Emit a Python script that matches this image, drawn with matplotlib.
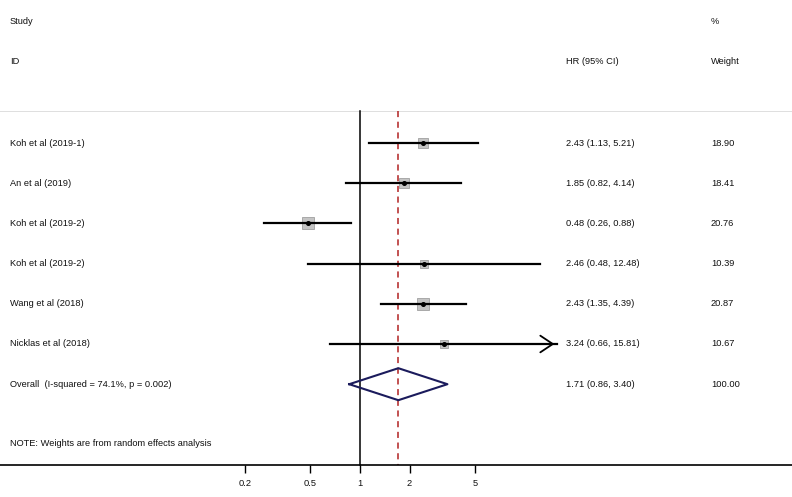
import matplotlib
matplotlib.use("Agg")
import matplotlib.pyplot as plt
import numpy as np

plt.rcParams['font.family'] = ['Liberation Sans', 'DejaVu Sans']

# study data
studies = ["Koh et al (2019-1)", "An et al (2019)", "Koh et al (2019-2)",
           "Koh et al (2019-2)", "Wang et al (2018)", "Nicklas et al (2018)"]
hr = [2.43, 1.85, 0.48, 2.46, 2.43, 3.24]
lo = [1.13, 0.82, 0.26, 0.48, 1.35, 0.66]
hi = [5.21, 4.14, 0.88, 12.48, 4.39, 15.81]
weight = [18.90, 18.41, 20.76, 10.39, 20.87, 10.67]

overall_hr, overall_lo, overall_hi = 1.71, 0.86, 3.40
overall_label = "Overall  (I-squared = 74.1%, p = 0.002)"
note = "NOTE: Weights are from random effects analysis"
xticks = [0.2, 0.5, 1, 2, 5]
ci_limit = 15  # CI beyond this gets an arrow

W, H = 792, 497
fig = plt.figure(figsize=(W / 100, H / 100), dpi=100)
ax = fig.add_axes([0, 0, 1, 1])
ax.set_xscale('log')
ppd = 164.5  # pixels per decade
x0 = 360     # pixel of HR = 1
ax.set_xlim(10 ** (-x0 / ppd), 10 ** ((W - x0) / ppd))
ax.set_ylim(H, 0)

tr = ax.get_yaxis_transform()  # x in axes fraction, y in data (pixels)

def px(x):
    return x / W

def txt(x, y, s):
    ax.text(px(x), y, s, fontsize=fs, va='center', color='#111111', transform=tr)

fs = 6.7
row_y = [143 + 40.2 * i for i in range(len(studies))]
y_over = row_y[-1] + 40.2

# header
txt(10, 22, "Study")
txt(10, 62, "ID")
txt(566, 62, "HR (95% CI)")
txt(711, 22, "%")
txt(711, 62, "Weight")
ax.axhline(111, color='#dedede', lw=0.7)

# reference lines
ax.plot([1, 1], [111, 465], color='black', lw=1.1)
ax.plot([overall_hr, overall_hr], [111, 465], color='#b22222', lw=1.1, ls=(0, (4, 3)))

for i, name in enumerate(studies):
    y = row_y[i]
    ax.plot([lo[i], hi[i]], [y, y], color='black', lw=1.6, zorder=3)
    if hi[i] > ci_limit:
        ax.annotate('', xy=(hi[i], y), xytext=(hi[i] / 1.3, y),
                    arrowprops=dict(arrowstyle='->,head_length=0.9,head_width=0.6',
                                    color='black', lw=1.3))
    ax.plot(hr[i], y, marker='s', ms=1.75 * np.sqrt(weight[i]), color='#c4c4c4',
            mec='#a0a0a0', mew=0.6, zorder=2)
    ax.plot(hr[i], y, marker='o', ms=2.6, color='black', zorder=4)
    txt(10, y, name)
    txt(566, y, f"{hr[i]:.2f} ({lo[i]:.2f}, {hi[i]:.2f})")
    txt(711, y, f"{weight[i]:.2f}")

# overall diamond
dx = [overall_lo, overall_hr, overall_hi, overall_hr, overall_lo]
dy = [y_over, y_over - 16, y_over, y_over + 16, y_over]
ax.plot(dx, dy, color='#1b1b5c', lw=1.5, zorder=5)
txt(10, y_over, overall_label)
txt(566, y_over, f"{overall_hr:.2f} ({overall_lo:.2f}, {overall_hi:.2f})")
txt(711, y_over, "100.00")

txt(10, 443, note)

# bottom axis
for s in ['top', 'left', 'right']:
    ax.spines[s].set_visible(False)
ax.spines['bottom'].set_position(('data', 465))
ax.spines['bottom'].set_linewidth(1.2)
ax.set_xticks(xticks)
ax.set_xticklabels([str(t) for t in xticks], fontsize=fs, color='#111111')
ax.xaxis.set_minor_locator(matplotlib.ticker.NullLocator())
ax.tick_params(axis='x', direction='out', length=6, width=1, pad=4)
ax.set_yticks([])

fig.savefig("out.png", dpi=100)
